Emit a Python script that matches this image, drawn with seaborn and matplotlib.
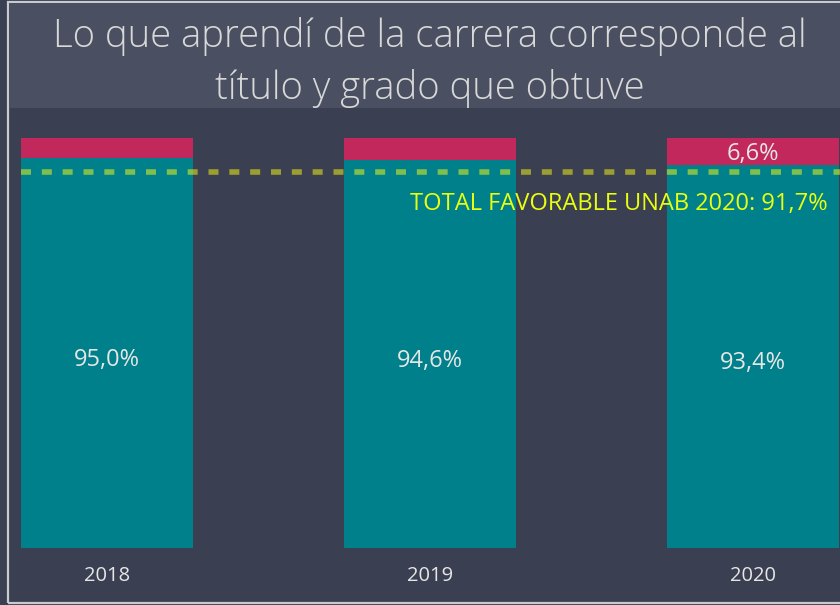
import matplotlib
matplotlib.use("Agg")
import matplotlib.pyplot as plt
import seaborn as sns
import pandas as pd
from matplotlib.patches import Rectangle

years = ["2018", "2019", "2020"]
favorable = [95.0, 94.6, 93.4]
unfavorable = [5.0, 5.4, 6.6]
fav_labels = ["95,0%", "94,6%", "93,4%"]
unfav_labels = ["", "", "6,6%"]
benchmark = 91.7
benchmark_label = "TOTAL FAVORABLE UNAB 2020: 91,7%"
title = "Lo que aprendí de la carrera corresponde al\ntítulo y grado que obtuve"

BG = "#3a3f51"
BAND = "#4a5061"
TEAL = "#00808a"
RED = "#c2285c"
TXT = "#e6e6e6"

sns.set_theme(style="white")
plt.rcParams['font.family'] = ['Open Sans', 'DejaVu Sans']

df = pd.DataFrame({"year": years,
                   "fav": favorable,
                   "total": [f + u for f, u in zip(favorable, unfavorable)]})

W, H = 840, 605
fig = plt.figure(figsize=(W / 100, H / 100), dpi=100, facecolor=BG)

def fx(px):
    return px / W

def fy(py):
    return 1 - py / H

# border and title band
fig.patches.append(Rectangle((fx(8), fy(603)), fx(850) - fx(8), fy(2) - fy(603),
                             transform=fig.transFigure, facecolor="none",
                             edgecolor="#c8cad0", linewidth=1.6, zorder=0))
fig.patches.append(Rectangle((fx(9), fy(108)), 1, fy(3) - fy(108),
                             transform=fig.transFigure, facecolor=BAND,
                             edgecolor="none", zorder=0))

fig.text(fx(430), fy(62.5), title, ha="center", va="center", fontsize=27.5,
         color="#d8d8d8", fontweight="light", linespacing=1.4)

ax = fig.add_axes([0, fy(548), 1, fy(108) - fy(548)])
ax.set_facecolor("none")
width = 172 / 323
sns.barplot(data=df, x="year", y="total", color=RED, saturation=1,
            width=width, linewidth=0, ax=ax)
sns.barplot(data=df, x="year", y="fav", color=TEAL, saturation=1,
            width=width, linewidth=0, ax=ax)

ax.set_xlim(-107 / 323, (840 - 107) / 323)
ax.set_ylim(0, 100 * 440 / 410)
for s in ax.spines.values():
    s.set_visible(False)
ax.set_yticks([])
ax.set_xlabel("")
ax.set_ylabel("")
ax.tick_params(axis="x", length=0, pad=13, labelsize=14.5, labelcolor=TXT)

for i, (f, u) in enumerate(zip(favorable, unfavorable)):
    ax.text(i, f / 2 - 1.6, fav_labels[i], ha="center", va="center",
            fontsize=17, color=TXT)
    if unfav_labels[i]:
        ax.text(i, f + u / 2 - 0.6, unfav_labels[i], ha="center", va="center",
                fontsize=17, color=TXT)

ax.plot([-width / 2, 3], [benchmark, benchmark], color="#ffff10", alpha=0.5,
        lw=4, ls=(0, (1.8, 1.95)), solid_capstyle="butt",
        dash_capstyle="butt", zorder=5)
ax.text((828 - 107) / 323, benchmark - 7.7, benchmark_label, ha="right",
        va="center", fontsize=17, color="#e8ff10", zorder=6)

fig.savefig("out.png", dpi=100, facecolor=BG)
